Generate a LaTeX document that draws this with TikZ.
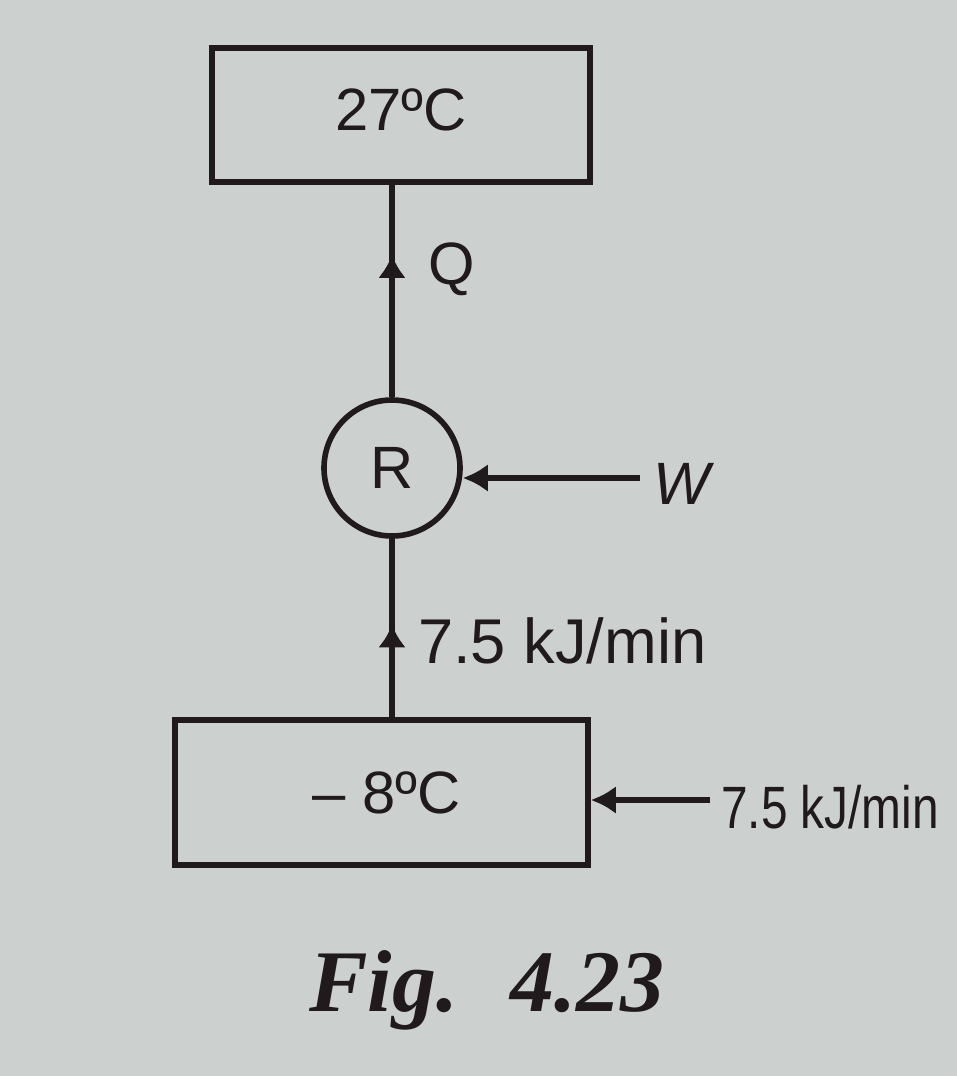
\documentclass[tikz,border=0pt]{standalone}
\usepackage{fontspec}
\setmainfont{Liberation Sans}
\newfontfamily\capfont{Liberation Serif}
\usetikzlibrary{arrows.meta, decorations.markings}
\definecolor{paper}{RGB}{204,208,206}
\definecolor{ink}{RGB}{32,26,28}

\begin{document}
\begin{tikzpicture}[
        % --- global looks ---
        every node/.style={text=ink, font=\fontsize{34}{40}\selectfont},
        reservoir/.style={draw=ink, line width=3.2pt, rectangle, inner sep=0pt},
        machine/.style={draw=ink, line width=3.2pt, circle, minimum size=2.72cm, inner sep=0pt},
        flow/.style={draw=ink, line width=3.2pt},
        tip/.style={-{Latex[length=0.5cm, width=0.56cm]}},
        midtip/.style={postaction={decorate}, decoration={markings,
            mark=at position #1 with {\arrow{Latex[length=0.46cm, width=0.56cm]}}}}
    ]

    % ==================== frame ====================
    \fill[paper] (0,0) rectangle (19.14,-21.52);
    \useasboundingbox (0,0) rectangle (19.14,-21.52);

    % ==================== nodes ====================
    \node[reservoir, minimum width=7.56cm, minimum height=2.68cm] (hot)  at (8.02,-2.3)   {\raisebox{0.2cm}{27ºC}};
    \node[machine]                                                 (R)    at (7.84,-9.36)  {R};
    \node[reservoir, minimum width=8.26cm, minimum height=2.9cm]   (cold) at (7.63,-15.85) {\,– 8ºC};

    \coordinate (wstart) at (12.8,-9.56);
    \coordinate (cstart) at (14.2,-16.0);

    % ==================== connectors ====================
    \path[flow, midtip=0.67] (R.north) -- (R.north |- hot.south)
        node[pos=0.6, right=0.55cm] (qlabel) {Q};
    \path[flow, midtip=0.52] (R.south |- cold.north) -- (R.south)
        node[pos=0.43, right=0.35cm] (qin) {\fontsize{36}{40}\selectfont 7.5 kJ/min};

    \draw[flow, tip] (wstart) -- (R.east |- wstart);
    \node[anchor=west] (wlabel) at (12.95,-9.68) {\itshape\fontsize{34}{40}\selectfont W};

    \draw[flow, tip] (cstart) -- (cold.east |- cstart);
    \node[anchor=west] (qleak) at (14.3,-16.15) {\scalebox{0.8}[1]{7.5 kJ/min}};

    % ==================== caption ====================
    \node (caption) at (9.74,-19.8) {\capfont\bfseries\itshape\fontsize{50}{56}\selectfont Fig.\hspace{0.6em}4.23};

\end{tikzpicture}
\end{document}
